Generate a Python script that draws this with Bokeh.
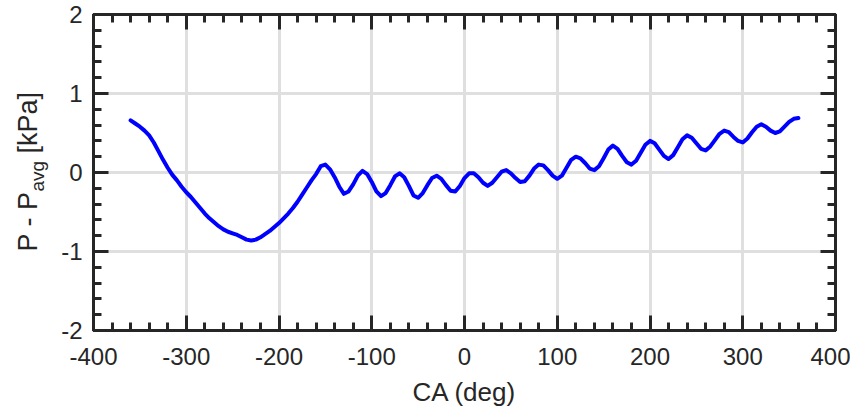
from bokeh.plotting import figure
from bokeh.models import (LinearAxis, SingleIntervalTicker, Range1d,
                          ColumnDataSource, Grid, CustomJSTickFormatter)
from bokeh.layouts import row
from bokeh.embed import file_html
from bokeh.resources import INLINE
from bokeh.core.properties import value
import math

# ---------------- data ----------------
ca_deg = [
    -360, -355, -350, -345, -340, -335, -330, -325, -320, -315, -310, -305,
    -300, -295, -290, -285, -280, -275, -270, -265, -260, -255, -250, -245,
    -240, -235, -230, -225, -220, -215, -210, -205, -200, -195, -190, -185,
    -180, -175, -170, -165, -160, -155, -150, -145, -140, -135, -130, -125,
    -120, -115, -110, -105, -100, -95, -90, -85, -80, -75, -70, -65,
    -60, -55, -50, -45, -40, -35, -30, -25, -20, -15, -10, -5,
    0, 5, 10, 15, 20, 25, 30, 35, 40, 45, 50, 55,
    60, 65, 70, 75, 80, 85, 90, 95, 100, 105, 110, 115,
    120, 125, 130, 135, 140, 145, 150, 155, 160, 165, 170, 175,
    180, 185, 190, 195, 200, 205, 210, 215, 220, 225, 230, 235,
    240, 245, 250, 255, 260, 265, 270, 275, 280, 285, 290, 295,
    300, 305, 310, 315, 320, 325, 330, 335, 340, 345, 350, 355,
    360,
]
dp_kpa = [
    0.66, 0.62, 0.58, 0.53, 0.47, 0.38, 0.27, 0.16, 0.06, -0.03, -0.10, -0.18,
    -0.25, -0.31, -0.38, -0.45, -0.52, -0.58, -0.63, -0.68, -0.72, -0.75, -0.77, -0.79,
    -0.82, -0.85, -0.86, -0.85, -0.82, -0.78, -0.74, -0.69, -0.64, -0.58, -0.52, -0.45,
    -0.37, -0.28, -0.19, -0.10, -0.02, 0.08, 0.10, 0.04, -0.06, -0.18, -0.27, -0.24,
    -0.15, -0.04, 0.02, -0.02, -0.12, -0.24, -0.30, -0.26, -0.16, -0.05, -0.01, -0.06,
    -0.17, -0.29, -0.32, -0.26, -0.16, -0.07, -0.04, -0.08, -0.16, -0.23, -0.24, -0.17,
    -0.07, -0.01, -0.01, -0.06, -0.13, -0.17, -0.13, -0.06, 0.01, 0.03, -0.01, -0.07,
    -0.12, -0.11, -0.04, 0.05, 0.10, 0.09, 0.03, -0.04, -0.08, -0.04, 0.06, 0.16,
    0.20, 0.18, 0.12, 0.05, 0.03, 0.08, 0.18, 0.29, 0.34, 0.30, 0.21, 0.13,
    0.10, 0.15, 0.25, 0.35, 0.40, 0.37, 0.29, 0.21, 0.17, 0.22, 0.32, 0.42,
    0.47, 0.44, 0.37, 0.30, 0.28, 0.33, 0.41, 0.49, 0.53, 0.51, 0.45, 0.40,
    0.38, 0.43, 0.51, 0.58, 0.61, 0.58, 0.53, 0.50, 0.52, 0.58, 0.64, 0.68,
    0.69,
]

x_label = "CA (deg)"
y_label_main = "P - P"
y_label_sub = "avg"
y_label_unit = "[kPa]"

FONT = "Liberation Sans"
DARK = "#262626"
GRID = "#dfdfdf"

H = 410
LW = 56          # width of the strip that carries the y-axis title

# ---------------- main plot ----------------
p = figure(width=850 - LW, height=H, output_backend="svg", toolbar_location=None,
           x_range=Range1d(-400, 400), y_range=Range1d(-2, 2),
           x_axis_type=None, y_axis_type=None,
           min_border_left=37, min_border_right=15,
           min_border_top=14, min_border_bottom=80)
p.background_fill_color = "white"
p.border_fill_color = "white"
p.outline_line_color = DARK
p.outline_line_width = 3

plain = CustomJSTickFormatter(code="return tick.toFixed(0);")
blank = CustomJSTickFormatter(code="return '';")


def style_axis(ax, labels=True):
    ax.axis_line_color = DARK
    ax.axis_line_width = 3
    ax.major_tick_line_color = DARK
    ax.major_tick_line_width = 3
    ax.minor_tick_line_color = DARK
    ax.minor_tick_line_width = 3
    ax.major_tick_in = 15
    ax.major_tick_out = 0
    ax.minor_tick_in = 8
    ax.minor_tick_out = 0
    ax.major_label_text_font = FONT
    ax.major_label_text_color = DARK
    ax.major_label_text_font_size = "24px"
    if labels:
        ax.formatter = plain
    else:
        ax.formatter = blank
        ax.major_label_standoff = 0


xt = SingleIntervalTicker(interval=100, num_minor_ticks=5)
yt = SingleIntervalTicker(interval=1, num_minor_ticks=5)

xb = LinearAxis(ticker=xt, axis_label=x_label)
style_axis(xb)
xb.major_label_standoff = 17
xb.axis_label_text_font = FONT
xb.axis_label_text_font_style = "normal"
xb.axis_label_text_font_size = "26px"
xb.axis_label_text_color = DARK
xb.axis_label_standoff = 9
p.add_layout(xb, "below")

yl = LinearAxis(ticker=yt)
style_axis(yl)
yl.major_label_standoff = 11
p.add_layout(yl, "left")

xa = LinearAxis(ticker=xt)
style_axis(xa, labels=False)
p.add_layout(xa, "above")

yr = LinearAxis(ticker=yt)
style_axis(yr, labels=False)
p.add_layout(yr, "right")

p.add_layout(Grid(dimension=0, ticker=xt, grid_line_color=GRID,
                  grid_line_width=3, level="underlay"))
p.add_layout(Grid(dimension=1, ticker=yt, grid_line_color=GRID,
                  grid_line_width=3, level="underlay"))

src = ColumnDataSource(dict(x=ca_deg, y=dp_kpa))
p.line("x", "y", source=src, line_color="#0000ff", line_width=4,
       line_join="round", line_cap="round")

# ---------------- strip with the rotated y-axis title ----------------
# its frame is aligned with the main frame, so it shares the y range
lab = figure(width=LW, height=H, output_backend="svg", toolbar_location=None,
             x_range=Range1d(0, LW), y_range=Range1d(-2, 2),
             x_axis_type=None, y_axis_type=None,
             min_border=0, outline_line_color=None)
lab.xgrid.visible = False
lab.ygrid.visible = False
lab.background_fill_color = "white"
lab.border_fill_color = "white"

ang = math.pi / 2
txt = dict(angle=ang, text_font=value(FONT), text_color=DARK,
           text_baseline="alphabetic", text_align="left")
lab.text(x=[27.5], y=[-1.0], text=[y_label_main],
         text_font_size=value("27px"), **txt)
lab.text(x=[37], y=[-0.24], text=[y_label_sub],
         text_font_size=value("19px"), **txt)
lab.text(x=[27.5], y=[0.24], text=[y_label_unit],
         text_font_size=value("27px"), **txt)

layout = row(lab, p)
open("out.html", "w").write(file_html(layout, INLINE))
